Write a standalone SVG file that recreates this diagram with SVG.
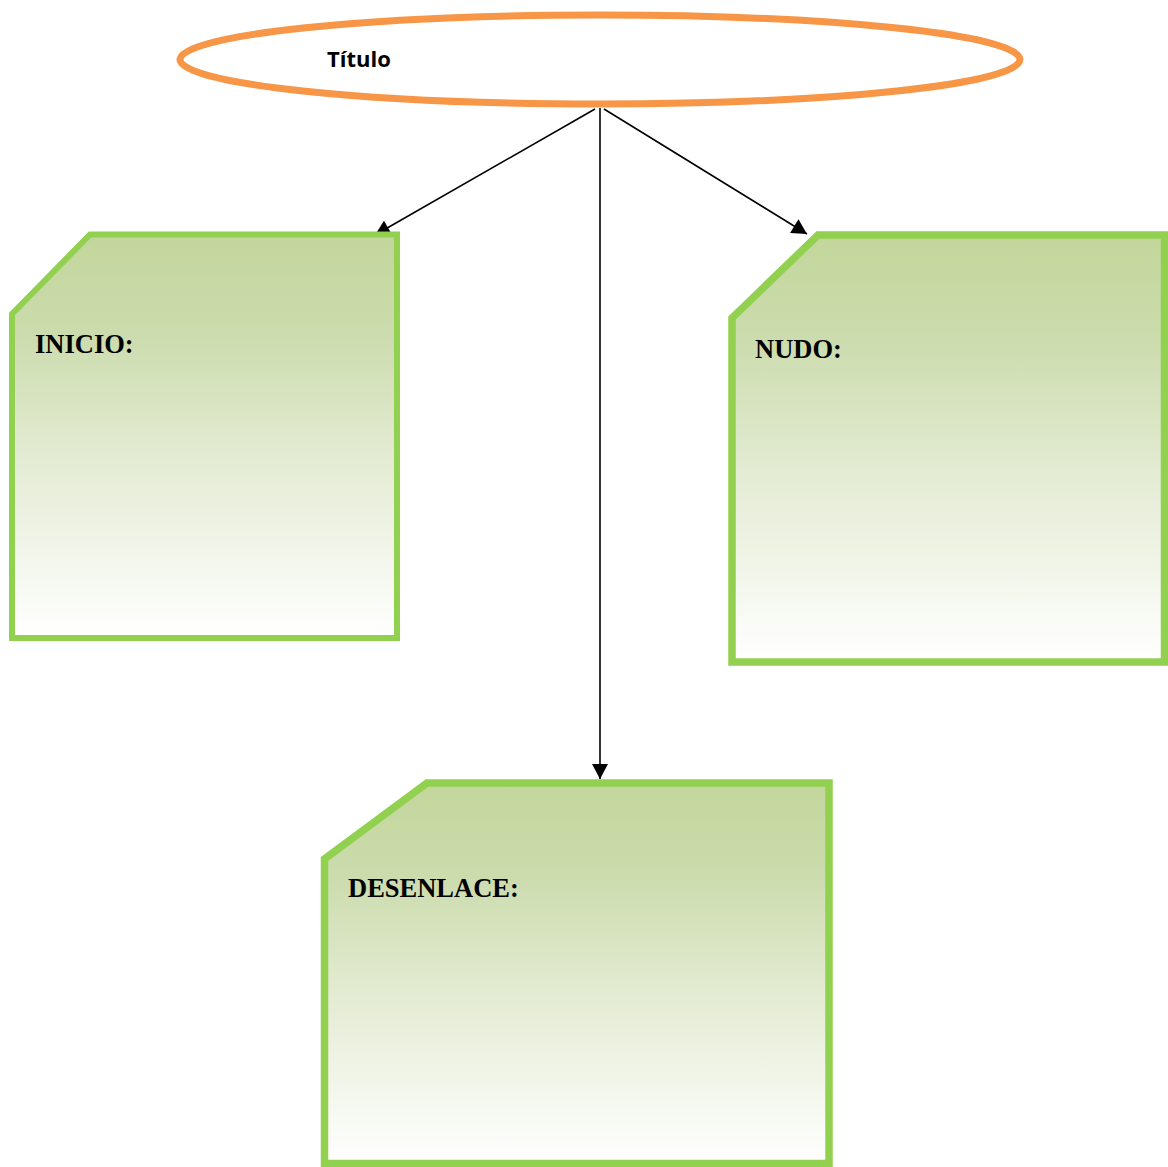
<svg xmlns="http://www.w3.org/2000/svg" width="1168" height="1167" viewBox="0 0 1168 1167">
  <defs>
    <linearGradient id="grn" x1="0" y1="0" x2="0" y2="1">
      <stop offset="0" stop-color="#C3D69B"/>
      <stop offset="0.25" stop-color="#CCDCAE"/>
      <stop offset="0.55" stop-color="#E3EBD2"/>
      <stop offset="1" stop-color="#FFFFFF"/>
    </linearGradient>
    <marker id="arr" markerUnits="userSpaceOnUse" markerWidth="16" markerHeight="16" viewBox="0 0 14 15" refX="14" refY="7.5" orient="auto">
      <path d="M0,0 L14,7.5 L0,15 Z" fill="#000"/>
    </marker>
    <style>
      .box { fill: url(#grn); stroke: #92D050; stroke-linejoin: miter; }
      .lbl { font-family: "Liberation Serif", "Times New Roman", serif; font-weight: bold; fill: #000; }
      .conn { stroke: #000; stroke-width: 1.6; fill: none; marker-end: url(#arr); }
    </style>
  </defs>
  <rect width="1168" height="1167" fill="#FFFFFF"/>

  <g id="titulo">
    <ellipse cx="600" cy="59.5" rx="420" ry="44.5" fill="#FFFFFF" stroke="#F79646" stroke-width="7"/>
    <text x="327" y="67" font-family="'Open Sans', 'Liberation Sans', sans-serif" font-weight="bold" font-size="22" fill="#000">Título</text>
  </g>

  <g id="connectors">
    <path class="conn" d="M595,109 L375,235"/>
    <path class="conn" d="M600,108 L600,779"/>
    <path class="conn" d="M604,109 L807,234"/>
  </g>

  <g id="inicio">
    <path class="box" stroke-width="6" d="M90,234.5 L397,234.5 L397,638 L12,638 L12,314 Z"/>
    <text class="lbl" x="35" y="353" font-size="26.5">INICIO:</text>
  </g>

  <g id="nudo">
    <path class="box" stroke-width="7.5" d="M818,235 L1164.5,235 L1164.5,662 L732,662 L732,318 Z"/>
    <text class="lbl" x="755" y="358" font-size="26.5">NUDO:</text>
  </g>

  <g id="desenlace">
    <path class="box" stroke-width="7.5" d="M427,783 L829,783 L829,1163.5 L324.5,1163.5 L324.5,859 Z"/>
    <text class="lbl" x="348" y="897" font-size="26.5">DESENLACE:</text>
  </g>
</svg>
